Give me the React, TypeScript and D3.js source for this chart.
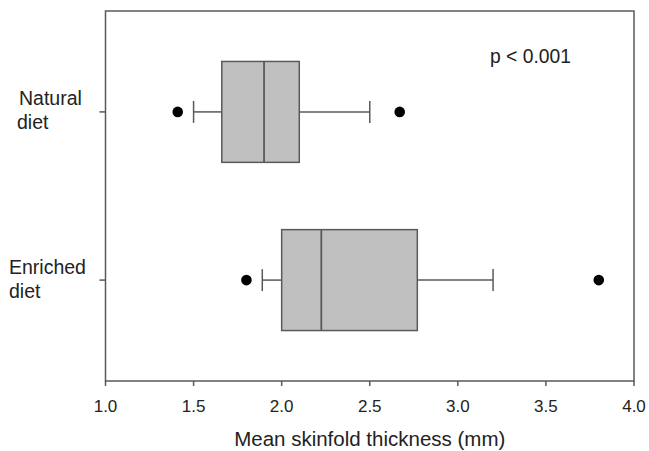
import React from 'react';
import * as d3 from 'd3';

// groups, top to bottom
const groups = ['Natural diet', 'Enriched diet'];
const groupLines = [['Natural', 'diet'], ['Enriched', 'diet']];

// box statistics (mm)
const whiskerLow = [1.5, 1.89];
const q1 = [1.66, 2.0];
const median = [1.9, 2.225];
const q3 = [2.1, 2.77];
const whiskerHigh = [2.5, 3.2];
const outliers = [[1.41, 2.67], [1.8, 3.8]];

const xTicks = [1.0, 1.5, 2.0, 2.5, 3.0, 3.5, 4.0];
const pLabel = 'p < 0.001';
const xTitle = 'Mean skinfold thickness (mm)';

const W = 649, H = 451;
const left = 105.5, right = 634, top = 11, bottom = 381;
const font = '"Liberation Sans", Arial, sans-serif';
const lineCol = '#5a5a5a';
const labelX = [19, 9]; // left edge of each group label

const App = () => {
  const x = d3.scaleLinear().domain([1, 4]).range([left, right]);
  const y = d3.scalePoint<string>().domain(groups).range([top, bottom]).padding(0.6);
  const boxH = y.step() * 0.6;
  const capH = 22;

  return (
    <svg width={W} height={H} style={{ position: 'absolute', left: 0, top: 0 }}>
      <rect x={0} y={0} width={W} height={H} fill="#fff" />
      {groups.map((g, i) => {
        const cy = y(g)!;
        return (
          <g key={g}>
            <line x1={x(whiskerLow[i])} x2={x(q1[i])} y1={cy} y2={cy} stroke={lineCol} strokeWidth={1.5} />
            <line x1={x(q3[i])} x2={x(whiskerHigh[i])} y1={cy} y2={cy} stroke={lineCol} strokeWidth={1.5} />
            <line x1={x(whiskerLow[i])} x2={x(whiskerLow[i])} y1={cy - capH / 2} y2={cy + capH / 2} stroke={lineCol} strokeWidth={1.5} />
            <line x1={x(whiskerHigh[i])} x2={x(whiskerHigh[i])} y1={cy - capH / 2} y2={cy + capH / 2} stroke={lineCol} strokeWidth={1.5} />
            <rect x={x(q1[i])} y={cy - boxH / 2} width={x(q3[i]) - x(q1[i])} height={boxH}
              fill="#c0c0c0" stroke={lineCol} strokeWidth={1.5} />
            <line x1={x(median[i])} x2={x(median[i])} y1={cy - boxH / 2} y2={cy + boxH / 2} stroke={lineCol} strokeWidth={1.8} />
            {outliers[i].map((v, j) => (
              <circle key={j} cx={x(v)} cy={cy} r={5.3} fill="#000" />
            ))}
            <line x1={left - 6} x2={left} y1={cy} y2={cy} stroke={lineCol} strokeWidth={1.5} />
            <text fontFamily={font} fontSize={19.5} fill="#222">
              <tspan x={labelX[i]} y={cy - 6.5}>{groupLines[i][0]}</tspan>
              <tspan x={labelX[i] - 2 + i * 2} y={cy + 17.5}>{groupLines[i][1]}</tspan>
            </text>
          </g>
        );
      })}
      <rect x={left} y={top} width={right - left} height={bottom - top} fill="none" stroke={lineCol} strokeWidth={1.5} />
      {xTicks.map(t => (
        <g key={t}>
          <line x1={x(t)} x2={x(t)} y1={bottom} y2={bottom + 5} stroke={lineCol} strokeWidth={1.5} />
          <text x={x(t)} y={412} textAnchor="middle" fontFamily={font} fontSize={17} fill="#222">{t.toFixed(1)}</text>
        </g>
      ))}
      <text x={490} y={63} fontFamily={font} fontSize={19.3} fill="#222">{pLabel}</text>
      <text x={(left + right) / 2} y={445.5} textAnchor="middle" fontFamily={font} fontSize={20.5} fill="#222">{xTitle}</text>
    </svg>
  );
};

export default App;
